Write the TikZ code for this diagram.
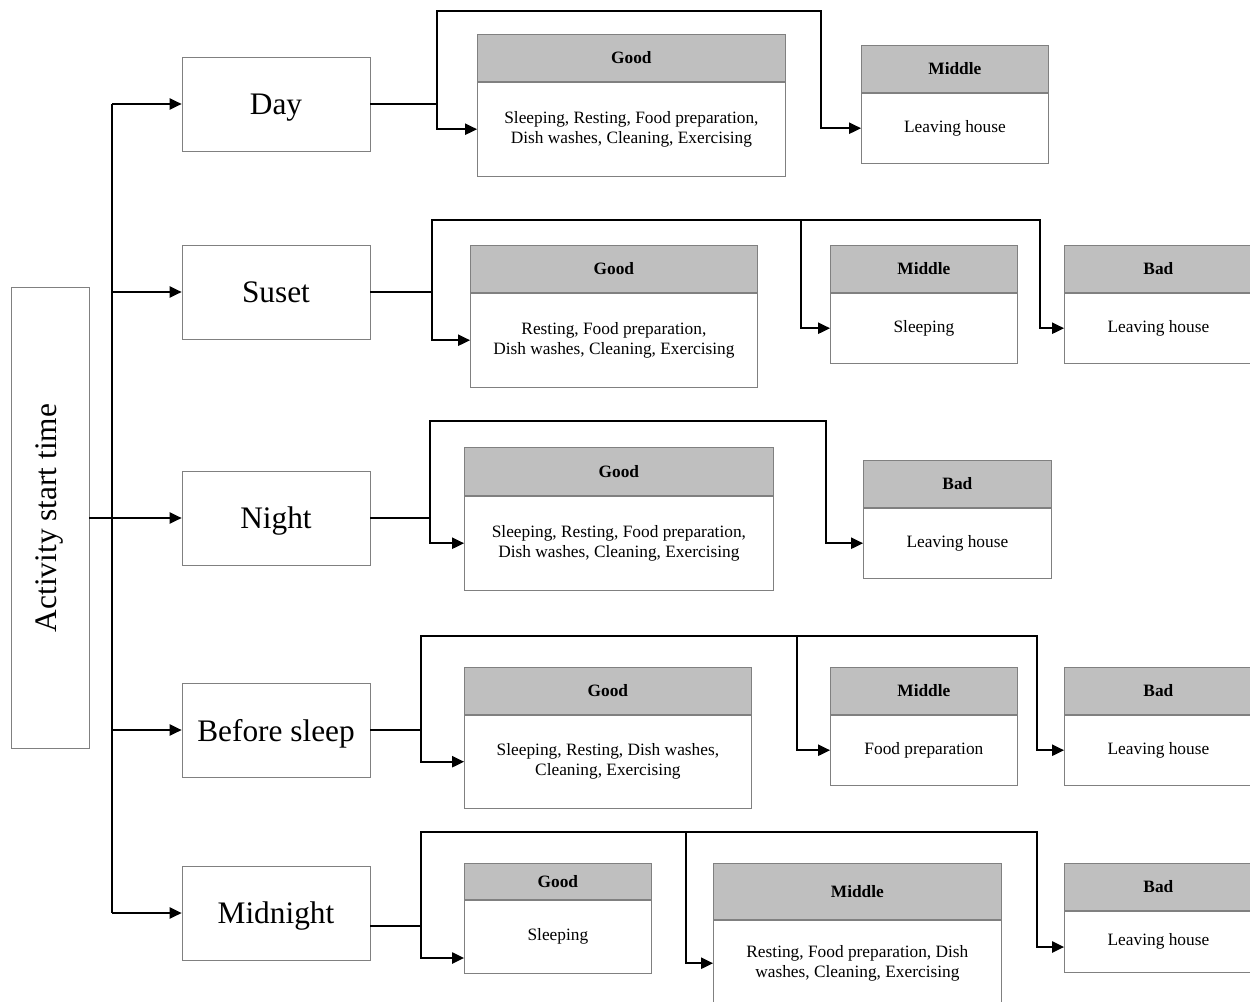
\documentclass[tikz,border=0pt]{standalone}
\usepackage{fontspec}
\setmainfont{Liberation Serif}
\usepackage{tikz}
\usetikzlibrary{positioning,arrows.meta}
\definecolor{hdrgray}{RGB}{191,191,191}
\definecolor{boxline}{RGB}{128,128,128}

\tikzset{
  sz/.style 2 args={minimum width=#1*0.75pt, minimum height=#2*0.75pt},
  timebox/.style={draw=boxline, line width=0.6pt, inner sep=0pt, sz={188}{94},
    text depth=0pt, font=\fontsize{23.5}{28}\selectfont},
  head/.style={draw=boxline, line width=0.6pt, fill=hdrgray, inner sep=0pt,
    anchor=north west, font=\bfseries\fontsize{13}{15}\selectfont},
  body/.style={draw=boxline, line width=0.6pt, inner sep=0pt, align=center,
    font=\fontsize{13}{15}\selectfont},
  wire/.style={line width=1.3pt},
  link/.style={line width=1.3pt, -{Triangle[length=9pt,width=8.5pt]}}
}

\begin{document}
\begin{tikzpicture}[x=0.75pt, y=-0.75pt]
    \useasboundingbox (0,0) rectangle (1250,1002);

    % root and time boxes
    \node[draw=boxline, line width=0.6pt, rotate=90, sz={461}{78},
      font=\fontsize{23.5}{28}\selectfont] (act) at (50,518) {Activity start time};
    \node[timebox] (day) at (276,104) {Day};
    \node[timebox] (sun) at (276,292) {Suset};
    \node[timebox] (night) at (276,518) {Night};
    \node[timebox] (bed) at (276,730) {Before sleep};
    \node[timebox] (mid) at (276,913) {Midnight};

    \coordinate (trk) at (112,0);
    \draw[wire] (trk |- day) -- (trk |- mid);
    \draw[link] (trk |- day) -- (day.west);
    \draw[link] (trk |- sun) -- (sun.west);
    \draw[link] (act.south) -- (night.west);
    \draw[link] (trk |- bed) -- (bed.west);
    \draw[link] (trk |- mid) -- (mid.west);

    % Day
    \node[head, sz={308}{47}] (dayGh) at (477,34) {Good};
    \node[body, sz={308}{94}, below=0pt of dayGh] (dayG) {Sleeping, Resting, Food preparation,\\Dish washes, Cleaning, Exercising};
    \node[head, sz={187}{47}] (dayMh) at (861,45) {Middle};
    \node[body, sz={187}{70}, below=0pt of dayMh] (dayM) {Leaving house};

    \coordinate (dayJ) at (437,104);
    \coordinate (dayT) at (821,11);
    \draw[wire] (day.east) -- (dayJ);
    \draw[link] (dayJ) |- (dayG.west);
    \draw[link] (dayJ) |- (dayT) |- (dayM.west);

    % Suset
    \node[head, sz={287}{47}] (sunGh) at (470,245) {Good};
    \node[body, sz={287}{94}, below=0pt of sunGh] (sunG) {Resting, Food preparation,\\Dish washes, Cleaning, Exercising};
    \node[head, sz={187}{47}] (sunMh) at (830,245) {Middle};
    \node[body, sz={187}{70}, below=0pt of sunMh] (sunM) {Sleeping};
    \node[head, sz={188}{47}] (sunBh) at (1064,245) {Bad};
    \node[body, sz={188}{70}, below=0pt of sunBh] (sunB) {Leaving house};

    \coordinate (sunJ) at (432,292);
    \coordinate (sunT1) at (801,220);
    \coordinate (sunT2) at (1040,220);
    \draw[wire] (sun.east) -- (sunJ);
    \draw[link] (sunJ) |- (sunG.west);
    \draw[link] (sunJ) |- (sunT2) |- (sunB.west);
    \draw[link] (sunT1) |- (sunM.west);

    % Night
    \node[head, sz={309}{48}] (nightGh) at (464,447) {Good};
    \node[body, sz={309}{94}, below=0pt of nightGh] (nightG) {Sleeping, Resting, Food preparation,\\Dish washes, Cleaning, Exercising};
    \node[head, sz={188}{47}] (nightBh) at (863,460) {Bad};
    \node[body, sz={188}{70}, below=0pt of nightBh] (nightB) {Leaving house};

    \coordinate (nightJ) at (430,518);
    \coordinate (nightT) at (826,421);
    \draw[wire] (night.east) -- (nightJ);
    \draw[link] (nightJ) |- (nightG.west);
    \draw[link] (nightJ) |- (nightT) |- (nightB.west);

    % Before sleep
    \node[head, sz={287}{47}] (bedGh) at (464,667) {Good};
    \node[body, sz={287}{93}, below=0pt of bedGh] (bedG) {Sleeping, Resting, Dish washes,\\Cleaning, Exercising};
    \node[head, sz={187}{47}] (bedMh) at (830,667) {Middle};
    \node[body, sz={187}{70}, below=0pt of bedMh] (bedM) {Food preparation};
    \node[head, sz={188}{47}] (bedBh) at (1064,667) {Bad};
    \node[body, sz={188}{70}, below=0pt of bedBh] (bedB) {Leaving house};

    \coordinate (bedJ) at (421,730);
    \coordinate (bedT1) at (797,636);
    \coordinate (bedT2) at (1037,636);
    \draw[wire] (bed.east) -- (bedJ);
    \draw[link] (bedJ) |- (bedG.west);
    \draw[link] (bedJ) |- (bedT2) |- (bedB.west);
    \draw[link] (bedT1) |- (bedM.west);

    % Midnight
    \node[head, sz={187}{36}] (midGh) at (464,863) {Good};
    \node[body, sz={187}{73}, below=0pt of midGh] (midG) {Sleeping};
    \node[head, sz={288}{56}] (midMh) at (713,863) {Middle};
    \node[body, sz={288}{86}, below=0pt of midMh] (midM) {Resting, Food preparation, Dish\\washes, Cleaning, Exercising};
    \node[head, sz={188}{47}] (midBh) at (1064,863) {Bad};
    \node[body, sz={188}{61}, below=0pt of midBh] (midB) {Leaving house};

    \coordinate (midJ) at (421,926);
    \coordinate (midT1) at (686,832);
    \coordinate (midT2) at (1037,832);
    \draw[wire] ([yshift=-9.75pt]mid.east) -- (midJ);
    \draw[link] (midJ) |- ([yshift=-16pt]midG.west);
    \draw[link] (midJ) |- (midT2) |- ([yshift=-4pt]midB.west);
    \draw[link] (midT1) |- (midM.west);
  \end{tikzpicture}
\end{document}
